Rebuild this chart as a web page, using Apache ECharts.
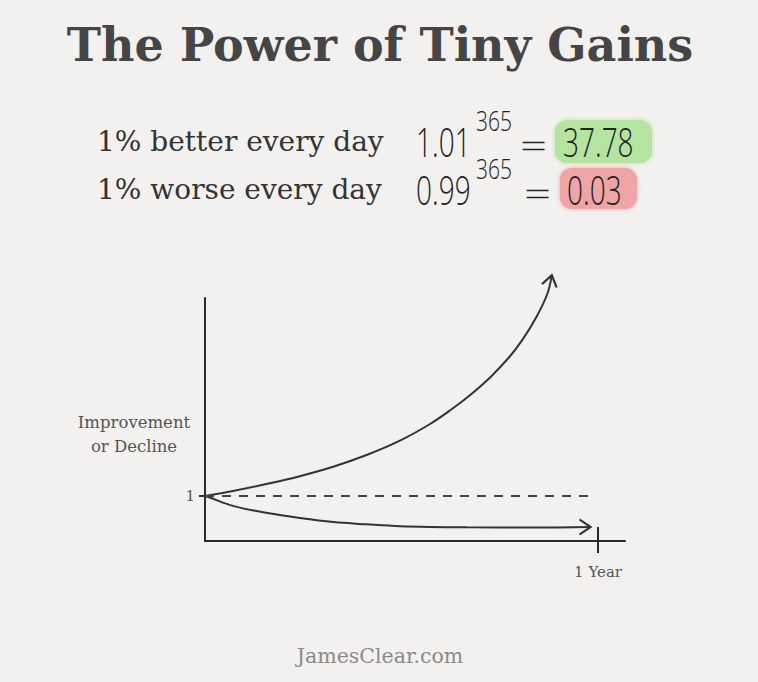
<!DOCTYPE html>
<html>
<head>
<meta charset="utf-8">
<script src="https://cdn.jsdelivr.net/npm/echarts@6/dist/echarts.min.js"></script>
<style>
html,body{margin:0;padding:0;background:#f2f1ef;}
#chart{width:758px;height:682px;}
</style>
</head>
<body>
<div id="chart"></div>
<script>
// ---- data (x = days, y = relative level) ----
const titleText = 'The Power of Tiny Gains';
const rowLabels = ['1% better every day', '1% worse every day'];
const bases = ['1.01', '0.99'];
const exponents = ['365', '365'];
const results = ['37.78', '0.03'];
const yLabelLines = ['Improvement', 'or Decline'];
const yTickValues = [1];
const yTickLabels = ['1'];
const xTickValues = [365];
const xTickLabels = ['1 Year'];
const footerText = 'JamesClear.com';

const upDays   = [0, 26, 58, 88, 119, 150, 181, 209, 228, 246, 265, 283, 295, 308, 318, 322];
const upValues = [1.0, 1.11, 1.27, 1.44, 1.65, 1.91, 2.23, 2.60, 2.91, 3.24, 3.64, 4.10, 4.48, 4.99, 5.50, 5.91];
const downDays   = [0, 5, 26, 58, 88, 119, 150, 181, 243, 305, 358];
const downValues = [1.0, 0.96, 0.78, 0.62, 0.51, 0.42, 0.37, 0.33, 0.305, 0.30, 0.31];
const baseDays   = [0, 356];
const baseValues = [1, 1];

const ink = '#333';
const chevron = 'path://M0,10 L5,0 L10,10';

function pairs(xs, ys, arrow) {
  return xs.map((x, i) => {
    if (arrow && i === xs.length - 1) {
      return {
        value: [x, ys[i]],
        symbol: chevron,
        symbolSize: [15, 11],
        symbolRotate: arrow.rotate,
        symbolOffset: arrow.offset,
        itemStyle: { color: 'none', borderColor: ink, borderWidth: 2 }
      };
    }
    return [x, ys[i]];
  });
}

const chart = echarts.init(document.getElementById('chart'), null, { renderer: 'svg' });

const hand = 'Open Sans';
const rowY = [141, 189];
const graphics = [
  { type: 'text', x: 380, y: 45, style: { text: titleText, font: 'bold 46px "DejaVu Serif"', fill: '#454545', align: 'center', verticalAlign: 'middle' } },
  { type: 'rect', shape: { x: 555, y: 120, width: 97, height: 43, r: 12 }, style: { fill: '#b4e4a0', shadowBlur: 4, shadowColor: '#b4e4a0' } },
  { type: 'rect', shape: { x: 560, y: 168, width: 77, height: 41, r: 12 }, style: { fill: '#efa5a5', shadowBlur: 4, shadowColor: '#efa5a5' } },
  { type: 'text', x: 380, y: 656, style: { text: footerText, font: '20.5px "DejaVu Serif"', fill: '#8a8a8a', align: 'center', verticalAlign: 'middle' } },
  { type: 'text', x: 134, y: 422, style: { text: yLabelLines[0], font: '16.5px "DejaVu Serif"', fill: '#555', align: 'center', verticalAlign: 'middle' } },
  { type: 'text', x: 134, y: 446, style: { text: yLabelLines[1], font: '16.5px "DejaVu Serif"', fill: '#555', align: 'center', verticalAlign: 'middle' } }
];
rowLabels.forEach((t, i) => {
  graphics.push({ type: 'text', x: 97, y: rowY[i], style: { text: t, font: '28px "DejaVu Serif"', fill: '#333', align: 'left', verticalAlign: 'middle' } });
  graphics.push({ type: 'text', x: 416, y: rowY[i], scaleX: 0.7, style: { text: bases[i], font: '300 40px "' + hand + '"', fill: '#222', align: 'left', verticalAlign: 'middle' } });
  graphics.push({ type: 'text', x: 476, y: rowY[i] - 21, scaleX: 0.75, style: { text: exponents[i], font: '300 28px "' + hand + '"', fill: '#222', align: 'left', verticalAlign: 'middle' } });
  graphics.push({ type: 'text', x: 520 + i * 4, y: rowY[i] + 4, scaleX: 1.4, style: { text: '=', font: '300 34px "' + hand + '"', fill: '#222', align: 'left', verticalAlign: 'middle' } });
  graphics.push({ type: 'text', x: i === 0 ? 563 : 567, y: rowY[i], scaleX: 0.7, style: { text: results[i], font: '300 40px "' + hand + '"', fill: '#222', align: 'left', verticalAlign: 'middle' } });
});

const axisLabelFont = { fontFamily: 'DejaVu Serif', fontSize: 15, color: '#555' };

chart.setOption({
  backgroundColor: '#f2f1ef',
  animation: false,
  graphic: graphics,
  grid: { left: 205, top: 298, width: 420, height: 243 },
  xAxis: [
    {
      type: 'value', min: 0, max: 390,
      axisLine: { show: true, lineStyle: { color: '#2a2a2a', width: 2 } },
      splitLine: { show: false },
      axisTick: { show: true, customValues: xTickValues, length: 12, lineStyle: { color: '#2a2a2a', width: 2 } },
      axisLabel: { show: true, customValues: xTickValues, formatter: () => xTickLabels[0], margin: 23, ...axisLabelFont }
    },
    {
      type: 'value', min: 0, max: 390, position: 'bottom',
      axisLine: { show: false },
      splitLine: { show: false },
      axisTick: { show: true, inside: true, customValues: xTickValues, length: 14, lineStyle: { color: '#2a2a2a', width: 2 } },
      axisLabel: { show: false }
    }
  ],
  yAxis: {
    type: 'value', min: 0, max: 5.4,
    axisLine: { show: true, lineStyle: { color: '#2a2a2a', width: 2 } },
    splitLine: { show: false },
    axisTick: { show: true, customValues: yTickValues, length: 6, lineStyle: { color: '#2a2a2a', width: 2 } },
    axisLabel: { show: true, customValues: yTickValues, formatter: () => yTickLabels[0], margin: 10, ...axisLabelFont }
  },
  series: [
    {
      type: 'line', smooth: 0.35, clip: false, silent: true,
      symbol: 'none',
      lineStyle: { color: ink, width: 2 },
      data: pairs(upDays, upValues, { rotate: -13, offset: [-1.2, 5.4] })
    },
    {
      type: 'line', smooth: 0.35, clip: false, silent: true,
      symbol: 'none',
      lineStyle: { color: ink, width: 2 },
      data: pairs(downDays, downValues, { rotate: -90, offset: [-5.5, 0] })
    },
    {
      type: 'line', clip: false, silent: true,
      symbol: 'none',
      lineStyle: { color: '#444', width: 2, type: [9, 8] },
      data: pairs(baseDays, baseValues, null)
    }
  ]
});
</script>
</body>
</html>
